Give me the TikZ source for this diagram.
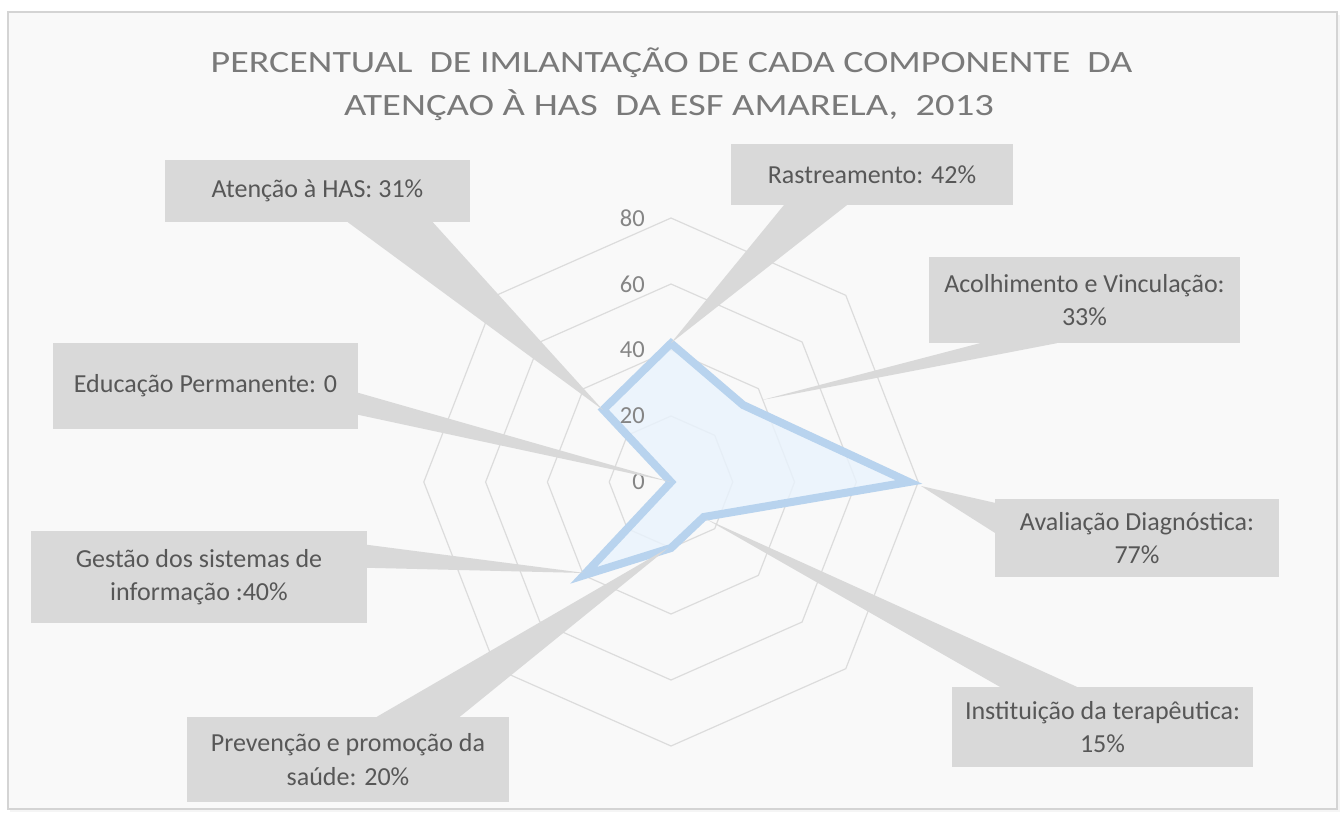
\documentclass[tikz,border=0pt]{standalone}
\usepackage{fontspec}
\setmainfont{Carlito}
\usetikzlibrary{calc}
\definecolor{boxgray}{HTML}{D9D9D9}
\definecolor{txtgray}{HTML}{575757}
\definecolor{ringgray}{HTML}{DCDCDC}
\definecolor{axisgray}{HTML}{858585}
\definecolor{datastroke}{RGB}{184,211,238}
\definecolor{datafill}{RGB}{233,243,253}
\definecolor{titlegray}{RGB}{122,122,122}
\definecolor{framegray}{HTML}{D4D4D4}
\definecolor{panel}{HTML}{F9F9F9}
\newcommand\lblfont{\fontsize{26}{33.5}\selectfont}
\newcommand\axfont{\fontsize{24.5}{28}\selectfont}
\newcommand\ttlfont{\fontsize{31}{40}\selectfont}
\begin{document}
\begin{tikzpicture}[x=1pt,y=-1pt,
  box/.style={fill=boxgray, inner sep=0pt, align=center, text=txtgray, font=\lblfont},
  lead/.style={fill=boxgray},
  ring/.style={draw=ringgray, line width=1.2pt},
  datap/.style={draw=datastroke, fill=datafill, fill opacity=0.8, line width=8pt, line join=miter},
  axlab/.style={anchor=east, inner sep=0pt, text=axisgray, font=\axfont},
  ttl/.style={anchor=base, inner sep=0pt, text=titlegray, font=\ttlfont}]
\useasboundingbox (0,0) rectangle (1344,812);
\fill[white] (0,0) rectangle (1344,812);
% panel
\fill[black!4] (10,15) rectangle (1340,812);
\draw[framegray, line width=2.5pt, fill=panel] (8,12) rectangle (1337,809);
% title
\node[ttl] (t1) at (671.5,72) {\scalebox{1.225}[1]{PERCENTUAL\ \ DE IMLANTAÇÃO DE CADA COMPONENTE\ \ DA}};
\node[ttl] (t2) at (669,115) {\scalebox{1.245}[1]{ATENÇAO À HAS\ \ DA ESF AMARELA,\ \ 2013}};
% radar
\begin{scope}[shift={(671,482)}, xscale=3.09, yscale=3.3]
  \foreach \v in {20,40,60,80}
    \draw[ring] (-90:\v) -- (-45:\v) -- (0:\v) -- (45:\v) -- (90:\v) -- (135:\v) -- (180:\v) -- (225:\v) -- cycle;
  \filldraw[datap] (-90:42) -- (-45:33) -- (0:77) -- (45:15) -- (90:20) -- (135:40) -- (0,0) -- (225:31) -- cycle;
\end{scope}
\foreach \v/\nm in {0/a0,20/a20,40/a40,60/a60,80/a80}
  \node[axlab] (\nm) at (645,{482-3.3*\v}) {\v};
% callout tips
\coordinate (tipA) at (603,410);
\coordinate (tipR) at (671,343);
\coordinate (tipC) at (762,400);
\coordinate (tipD) at (921,486);
\coordinate (tipI) at (706,519);
\coordinate (tipP) at (668,548);
\coordinate (tipG) at (585,573);
\coordinate (tipE) at (671,482);
% callout boxes
\node[box, minimum width=305pt, minimum height=62pt] (bA) at (317.5,191) {Atenção à HAS: 31\%};
\node[box, minimum width=282pt, minimum height=61pt] (bR) at (872,174.5) {Rastreamento: 42\%};
\node[box, minimum width=311pt, minimum height=86pt] (bC) at (1084.5,300) {Acolhimento e Vinculação:\\33\%};
\node[box, minimum width=284pt, minimum height=78pt] (bD) at (1137,538) {Avaliação Diagnóstica:\\77\%};
\node[box, minimum width=301pt, minimum height=80pt] (bI) at (1102.5,727) {Instituição da terapêutica:\\15\%};
\node[box, minimum width=322pt, minimum height=85pt] (bP) at (348,759.5) {Prevenção e promoção da\\saúde: 20\%};
\node[box, minimum width=336pt, minimum height=92pt] (bG) at (199,577) {Gestão dos sistemas de\\informação :40\%};
\node[box, minimum width=305pt, minimum height=86pt] (bE) at (205.5,386) {Educação Permanente: 0};
% leaders
\fill[lead] ($(bA.south west)+(183,0)$) -- (tipA) -- ($(bA.south west)+(268,0)$) -- cycle;
\fill[lead] ($(bR.south west)+(53,0)$) -- (tipR) -- ($(bR.south west)+(116,0)$) -- cycle;
\fill[lead] ($(bC.south west)+(51,0)$) -- (tipC) -- ($(bC.south west)+(128,0)$) -- cycle;
\fill[lead] ($(bD.north west)+(0,4)$) -- (tipD) -- ($(bD.north west)+(0,34)$) -- cycle;
\fill[lead] ($(bI.north west)+(48,0)$) -- (tipI) -- ($(bI.north west)+(125,0)$) -- cycle;
\fill[lead] ($(bP.north west)+(190,0)$) -- (tipP) -- ($(bP.north west)+(273,0)$) -- cycle;
\fill[lead] ($(bG.north east)+(0,14)$) -- (tipG) -- ($(bG.north east)+(0,37)$) -- cycle;
\fill[lead] ($(bE.north east)+(0,50)$) -- (tipE) -- ($(bE.north east)+(0,72)$) -- cycle;
\end{tikzpicture}
\end{document}
